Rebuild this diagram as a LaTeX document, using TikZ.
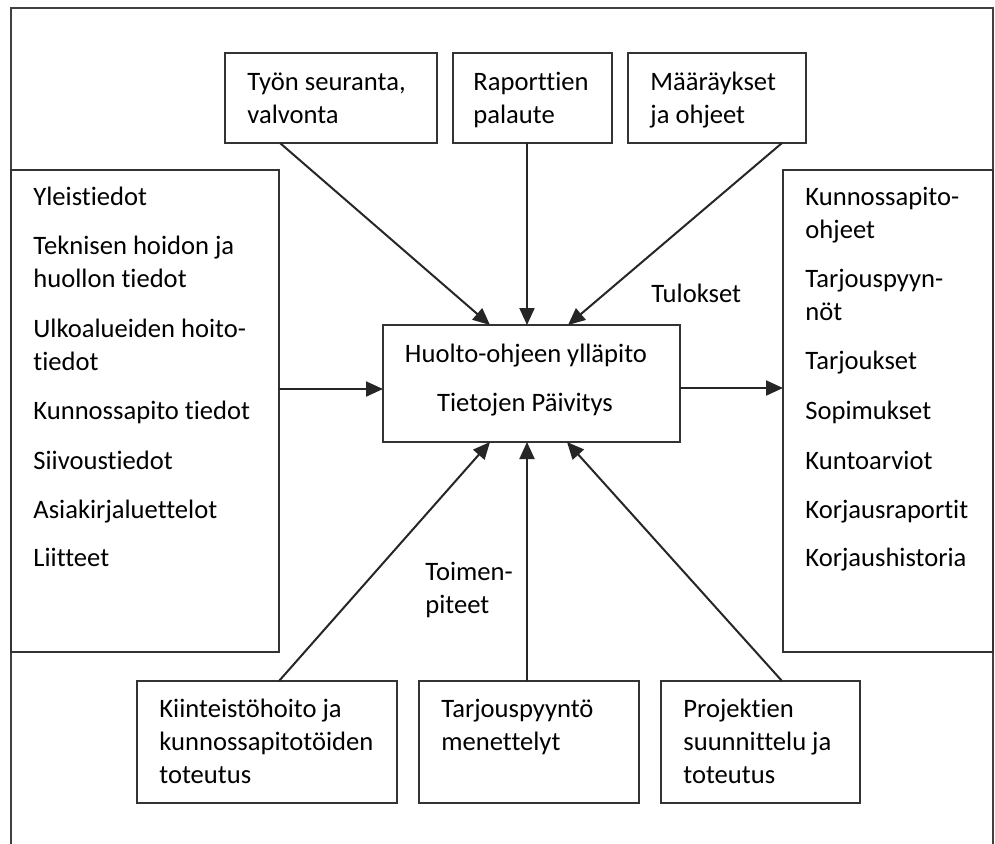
\documentclass[tikz,border=0pt]{standalone}
\usepackage{fontspec}
\setmainfont{Carlito}[Ligatures={CommonOff,ContextualOff}, RawFeature={-liga;-clig;-dlig}]
\usetikzlibrary{arrows.meta,calc}

% box drawn from its corner coordinates: name, x1, y1, x2, y2
\newcommand\framedbox[5]{%
  \node[box, minimum width={(#4-#2)*0.5pt}, minimum height={(#5-#3)*0.5pt}]
    (#1) at ({(#2+#4)/2},{(#3+#5)/2}) {};}

\begin{document}
\begin{tikzpicture}[x=0.5pt,y=-0.5pt,
  box/.style={draw=black!80, line width=0.7pt, inner sep=0pt, outer sep=0pt, fill=none},
  txt/.style={anchor=base west, inner sep=0pt, text=black,
              font=\fontsize{13.3pt}{16pt}\selectfont},
  ctxt/.style={txt, anchor=base},
  arr/.style={draw=black!85, line width=1pt,
              -{Triangle[length=8.5pt,width=7.5pt]}},
  frameline/.style={draw=black!75, line width=0.7pt}]

\useasboundingbox (0,0) rectangle (995,843);

% outer frame (open at the bottom)
\draw[frameline] (11,850) |- (993,8) -- (993,850);

% boxes
\framedbox{t1}{225}{53}{437}{143}
\framedbox{t2}{453}{53}{612}{143}
\framedbox{t3}{628}{53}{806}{143}
\framedbox{lb}{11}{170}{279}{652}
\framedbox{rb}{783}{170}{993}{652}
\framedbox{c}{383}{325}{680}{442}
\framedbox{b1}{137}{681}{397}{803}
\framedbox{b2}{419}{681}{639}{803}
\framedbox{b3}{661}{681}{860}{803}

% top boxes
\node[txt] (t1a) at (247,90) {Työn seuranta,};
\node[txt] (t1b) at (247,123) {valvonta};
\node[txt] (t2a) at (473,90) {Raporttien};
\node[txt] (t2b) at (473,123) {palaute};
\node[txt] (t3a) at (650,90) {Määräykset};
\node[txt] (t3b) at (650,123) {ja ohjeet};

% left list
\foreach \t/\y [count=\i] in {Yleistiedot/205, Teknisen hoidon ja/254,
    huollon tiedot/287, Ulkoalueiden hoito-/337, tiedot/370,
    Kunnossapito tiedot/419, Siivoustiedot/469, Asiakirjaluettelot/518,
    Liitteet/566}
  \node[txt] (l\i) at (33,\y) {\t};

% right list
\foreach \t/\y [count=\i] in {Kunnossapito-/205, ohjeet/238,
    Tarjouspyyn-/287, nöt/320, Tarjoukset/369, Sopimukset/419,
    Kuntoarviot/469, Korjausraportit/518, Korjaushistoria/566}
  \node[txt] (r\i) at (805,\y) {\t};

% centre box
\node[ctxt] (ca) at (526,362) {Huolto-ohjeen ylläpito};
\node[ctxt] (cb) at (525,411) {Tietojen Päivitys};

% bottom boxes
\node[txt] (b1a) at (159,717) {Kiinteistöhoito ja};
\node[txt] (b1b) at (159,750) {kunnossapitotöiden};
\node[txt] (b1c) at (159,783) {toteutus};
\node[txt] (b2a) at (441,717) {Tarjouspyyntö};
\node[txt] (b2b) at (441,750) {menettelyt};
\node[txt] (b3a) at (683,717) {Projektien};
\node[txt] (b3b) at (683,750) {suunnittelu ja};
\node[txt] (b3c) at (683,783) {toteutus};

% labels on the connectors
\node[txt] (tul) at (651,302) {Tulokset};
\node[txt] (toi1) at (425,580) {Toimen-};
\node[txt] (toi2) at (425,613) {piteet};

% connectors into the centre box
\draw[arr] ($(t1.south west)+(55,0)$) -- ($(c.north west)+(107,0)$);
\draw[arr] ($(t2.south west)+(74,0)$) -- ($(c.north west)+(144,0)$);
\draw[arr] ($(t3.south east)+(-24,0)$) -- ($(c.north west)+(185,0)$);
\draw[arr] ($(lb.north east)+(0,219)$) -- ($(c.north west)+(0,64)$);
\draw[arr] ($(b1.north west)+(142,0)$) -- ($(c.south west)+(107,0)$);
\draw[arr] ($(b2.north west)+(108,0)$) -- ($(c.south west)+(144,0)$);
\draw[arr] ($(b3.north west)+(121,0)$) -- ($(c.south west)+(184,0)$);

% connector out of the centre box
\draw[arr] ($(c.north east)+(0,63)$) -- ($(rb.north west)+(0,218)$);

\end{tikzpicture}
\end{document}
